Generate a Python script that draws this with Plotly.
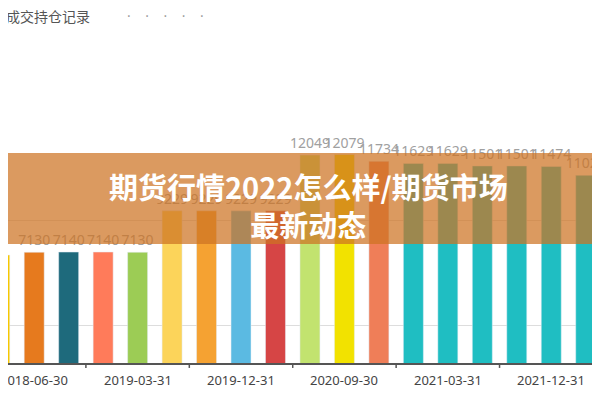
import plotly.graph_objects as go

# 季度日期 (类别轴)
datas = ['2018-03-31', '2018-06-30', '2018-09-30', '2018-12-31', '2019-03-31', '2019-06-30',
         '2019-09-30', '2019-12-31', '2020-03-31', '2020-06-30', '2020-09-30', '2020-12-31',
         '2021-02-28', '2021-03-31', '2021-06-30', '2021-09-30', '2021-12-31', '2022-03-31']
valores = [6990, 7130, 7140, 7140, 7130, 9229, 9229, 9229, 9229, 12049, 12079, 11734,
           11629, 11629, 11501, 11501, 11474, 11025]
cores = ['#f7c800', '#e67a1e', '#1e6a7c', '#ff7b5a', '#9ccc55', '#fcd45a', '#f5a232',
         '#5bbae2', '#d64545', '#c2e36f', '#f2e200', '#ef7e58', '#1fbec2', '#1fbec2',
         '#1fbec2', '#1fbec2', '#1fbec2', '#1fbec2']
idx_rotulos = [1, 4, 7, 10, 13, 16]

T, B = 108, 45
H = 400 - T - B


def ypap(p):
    # pixel da tela -> coordenada de papel
    return (400 - B - (p - 8)) / H


fig = go.Figure()

fig.add_trace(go.Bar(
    x=list(range(len(valores))),
    y=valores,
    marker_color=cores,
    text=[str(v) for v in valores],
    textposition='outside',
    constraintext='none',
    textfont=dict(size=14, color='#a0a0a0', family='Noto Sans'),
    cliponaxis=False,
))

fig.update_layout(
    width=600, height=400,
    margin=dict(l=0, r=0, t=T, b=B, autoexpand=False),
    plot_bgcolor='white', paper_bgcolor='white',
    bargap=0.42,
    showlegend=False,
    xaxis=dict(
        range=[0.24, 0.24 + 600 / 34.47],
        showticklabels=False, ticks='',
        showline=True, linecolor='#555555', linewidth=1.5,
        showgrid=False, zeroline=False, automargin=False,
    ),
    yaxis=dict(
        range=[1521, 14030],
        tickvals=[3430, 8730, 14030],
        showticklabels=False, gridcolor='#dddddd', zeroline=False, automargin=False,
    ),
)

# rótulos das datas e marcas nas fronteiras das categorias
for i in idx_rotulos:
    fig.add_shape(type='line', xref='x', yref='paper', x0=i - 1.5, x1=i - 1.5,
                  y0=0, y1=-0.02, line=dict(color='#555555', width=1.5))
    fig.add_annotation(text=datas[i], xref='x', yref='paper', x=i, y=-0.025,
                       yanchor='top', showarrow=False,
                       font=dict(size=13, color='#444444', family='Noto Sans'))

fig.add_annotation(text='成交持仓记录', xref='paper', yref='paper', x=84 / 600, y=ypap(16),
                   xanchor='right', yanchor='middle', showarrow=False,
                   font=dict(size=14, color='#555555', family='Noto Sans CJK SC'))
fig.add_annotation(text='·    ·    ·    ·    ·', xref='paper', yref='paper', x=117 / 600,
                   y=ypap(16), xanchor='left', yanchor='middle', showarrow=False,
                   font=dict(size=14, color='#999999'))

# faixa laranja com título
fig.add_shape(type='rect', xref='paper', yref='paper', x0=-0.02, x1=1.02,
              y0=ypap(244), y1=ypap(153),
              fillcolor='rgba(205,115,35,0.72)', line=dict(width=0), layer='above')
fig.add_annotation(text='<b>期货行情2022怎么样/期货市场</b><br><b>最新动态</b>',
                   xref='paper', yref='paper', x=300 / 600, y=ypap(205),
                   showarrow=False, align='center',
                   font=dict(size=29, color='white', family='Noto Sans CJK SC'))

fig.write_html("out.html")
